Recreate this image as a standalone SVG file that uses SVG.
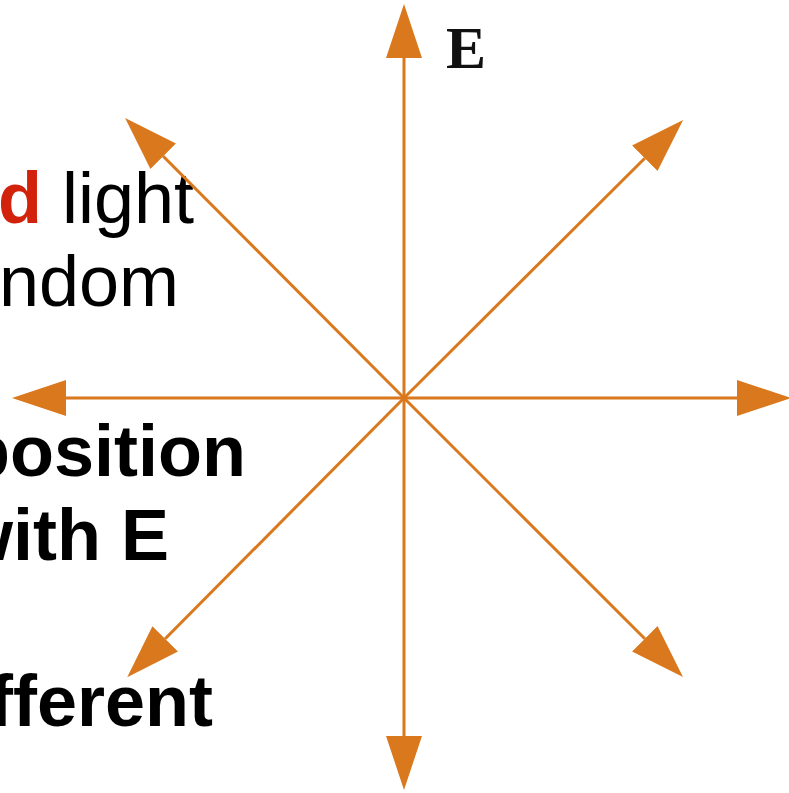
<svg xmlns="http://www.w3.org/2000/svg" width="789" height="793" viewBox="0 0 789 793">
  <style>
    .txt { font-family: "Liberation Sans", Arial, sans-serif; font-size: 72px; fill: #000; }
    .b { font-weight: bold; }
    .red { fill: #D3220C; font-weight: bold; }
    .ax { stroke: #D9781C; stroke-width: 3; fill: none; marker-end: url(#head); }
    .lbl { font-family: "Liberation Serif", "Times New Roman", serif; font-weight: bold; font-size: 60px; fill: #111; }
  </style>
  <defs>
    <marker id="head" viewBox="0 -19 56 38" markerWidth="56" markerHeight="38" refX="0" refY="0" orient="auto" markerUnits="userSpaceOnUse">
      <path d="M0,-18 L54,0 L0,18 Z" fill="#D9781C"/>
    </marker>
  </defs>
  <rect width="789" height="793" fill="#fff"/>

  <g id="text-block">
    <text class="txt" x="-2" y="223"><tspan class="red">d</tspan> light</text>
    <text class="txt" x="179" y="306" text-anchor="end">ndom</text>
    <text class="txt b" x="246" y="476" text-anchor="end">position</text>
    <text class="txt b" x="169" y="560" text-anchor="end">with E</text>
    <text class="txt b" x="213" y="726" text-anchor="end">fferent</text>
  </g>

  <g id="connectors">
    <line class="ax" x1="404" y1="398" x2="404" y2="58"/>
    <line class="ax" x1="404" y1="398" x2="404" y2="736"/>
    <line class="ax" x1="404" y1="398" x2="66" y2="398"/>
    <line class="ax" x1="404" y1="398" x2="737" y2="398"/>
    <line class="ax" x1="404" y1="398" x2="644.8" y2="158.2"/>
    <line class="ax" x1="404" y1="398" x2="163.2" y2="156.2"/>
    <line class="ax" x1="404" y1="398" x2="165.2" y2="638.8"/>
    <line class="ax" x1="404" y1="398" x2="644.8" y2="638.8"/>
  </g>

  <g id="label-E">
    <text class="lbl" x="446" y="68">E</text>
  </g>
</svg>
